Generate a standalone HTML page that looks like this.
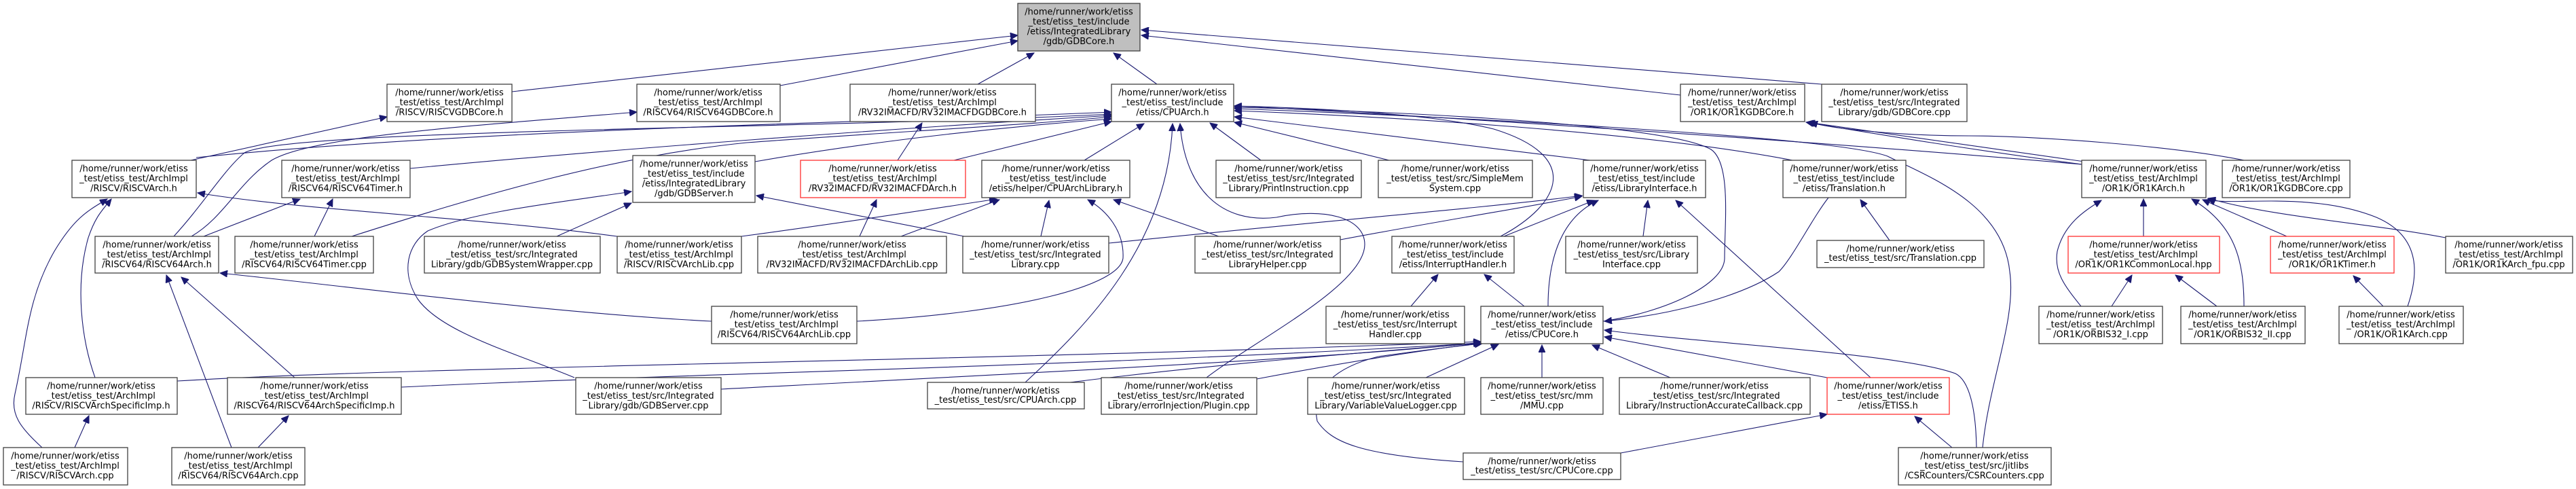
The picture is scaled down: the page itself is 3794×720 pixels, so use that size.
<!DOCTYPE html>
<html><head><meta charset="utf-8"><style>
html,body{margin:0;padding:0;background:#fff;}
svg{display:block;}
text{font-family:"DejaVu Sans","Liberation Sans",sans-serif;font-size:13px;fill:#000;}
.n{fill:#fff;stroke:#404040;stroke-width:1.3;}
.r{fill:#fff;stroke:#ff3030;stroke-width:1.3;}
.g{fill:#bfbfbf;stroke:#404040;stroke-width:1.3;}
.e{fill:none;stroke:#191970;stroke-width:1.1;marker-end:url(#a);}
</style></head><body>
<svg width="3794" height="720" viewBox="0 0 3794 720" xmlns="http://www.w3.org/2000/svg">
<defs><marker id="a" markerUnits="userSpaceOnUse" markerWidth="12" markerHeight="10" refX="11" refY="5" orient="auto"><path d="M0,0 L11,5 L0,10 z" fill="#191970" stroke="#191970"/></marker></defs>
<g id="edges">
<!-- to GDBCore -->
<path class="e" d="M754,135 L1499,52"/>
<path class="e" d="M1149,126 L1499,60"/>
<path class="e" d="M1440,124 L1523,78"/>
<path class="e" d="M1704,124 L1640,78"/>
<path class="e" d="M2475,140 L1681,52"/>
<path class="e" d="M2683,124 L1681,44"/>
<!-- to RISCVGDBCore / RISCV64GDBCore / RV32GDBCore -->
<path class="e" d="M281,236 L570,172"/>
<path class="e" d="M282,348 C330,320 350,270 400,236 C460,200 700,185 938,165"/>
<path class="e" d="M1322,236 L1358,181"/>
<!-- to CPUArch.h from left -->
<path class="e" d="M289,232 C700,190 1300,180 1637,165"/>
<path class="e" d="M256,348 C300,300 330,250 360,225 C420,190 1200,190 1637,168"/>
<path class="e" d="M604,248 C900,220 1300,190 1637,170"/>
<path class="e" d="M518,348 C700,290 900,230 1100,210 C1300,195 1500,185 1637,172"/>
<path class="e" d="M1112,238 C1300,205 1500,185 1637,175"/>
<path class="e" d="M1405,236 L1637,179"/>
<path class="e" d="M1597,236 L1685,182"/>
<path class="e" d="M1510,563 C1600,480 1720,360 1727,182"/>
<path class="e" d="M1777,556 C1850,500 2010,420 2010,360 C2010,320 1950,305 1880,320 C1800,330 1745,280 1738,182"/>
<path class="e" d="M1857,236 L1782,181"/>
<path class="e" d="M2046,236 L1818,180"/>
<!-- to CPUArch.h from right -->
<path class="e" d="M2342,236 L1818,172"/>
<path class="e" d="M2210,348 C2300,300 2330,230 2200,190 C2100,165 1900,158 1818,156"/>
<path class="e" d="M2361,473 C2450,460 2540,420 2540,380 C2540,330 2550,240 2520,220 C2450,180 2000,162 1818,158"/>
<path class="e" d="M2640,236 C2400,190 2000,170 1818,163"/>
<path class="e" d="M3066,242 C2700,210 2100,170 1818,156"/>
<path class="e" d="M2920,659 C2930,560 2970,470 2960,400 C2950,300 2840,260 2780,230 C2700,200 2100,170 1818,160"/>
<!-- RISCV side -->
<path class="e" d="M909,348 C700,320 450,310 291,284"/>
<path class="e" d="M62,659 C30,630 15,610 22,580 C40,500 40,440 80,370 C110,320 130,310 158,293"/>
<path class="e" d="M140,556 C120,500 110,420 130,350 C140,320 150,310 164,293"/>
<path class="e" d="M300,348 L442,293"/>
<path class="e" d="M463,348 L490,293"/>
<path class="e" d="M341,659 L245,405"/>
<path class="e" d="M434,556 L267,408"/>
<path class="e" d="M1048,473 C800,460 500,420 324,402"/>
<path class="e" d="M110,659 L131,612"/>
<path class="e" d="M380,659 L425,612"/>
<!-- to CPUCore.h from left -->
<path class="e" d="M261,561 C600,540 1500,530 2181,503"/>
<path class="e" d="M591,570 C1000,550 1600,540 2181,505"/>
<path class="e" d="M1062,573 C1600,545 2000,525 2181,504"/>
<path class="e" d="M1576,563 C1800,535 2000,520 2181,505"/>
<path class="e" d="M1851,558 C2000,530 2100,515 2183,505"/>
<path class="e" d="M2100,556 L2207,507"/>
<path class="e" d="M2271,556 L2271,508"/>
<path class="e" d="M2460,556 L2345,508"/>
<path class="e" d="M2691,556 L2363,496"/>
<path class="e" d="M2911,659 C2910,600 2900,560 2880,550 C2800,520 2500,505 2363,486"/>
<path class="e" d="M2693,291 C2670,320 2640,380 2620,400 C2560,440 2450,465 2363,473"/>
<path class="e" d="M2155,680 C2000,670 1960,650 1940,620 C1930,570 1970,540 2030,525 C2100,515 2160,508 2183,506"/>
<path class="e" d="M2387,667 L2691,610"/>
<!-- GDBServer.h -->
<path class="e" d="M820,348 L930,299"/>
<path class="e" d="M1420,348 L1114,288"/>
<path class="e" d="M846,556 C760,520 650,490 615,440 C590,400 600,360 630,340 C700,310 850,295 930,282"/>
<!-- CPUArchLibrary / RV32Arch -->
<path class="e" d="M1092,348 C1300,320 1420,300 1468,293"/>
<path class="e" d="M1327,348 L1472,294"/>
<path class="e" d="M1533,348 L1545,295"/>
<path class="e" d="M1262,473 C1500,460 1650,420 1654,380 C1656,340 1630,310 1602,294"/>
<path class="e" d="M1795,348 L1640,294"/>
<path class="e" d="M1266,348 L1291,294"/>
<!-- LibraryInterface.h -->
<path class="e" d="M1633,358 C1900,330 2200,305 2330,288"/>
<path class="e" d="M1974,353 C2150,320 2250,305 2330,289"/>
<path class="e" d="M2215,348 L2348,295"/>
<path class="e" d="M2280,451 C2280,380 2300,320 2354,295"/>
<path class="e" d="M2420,348 L2427,295"/>
<path class="e" d="M2755,556 L2468,295"/>
<!-- InterruptHandler.h -->
<path class="e" d="M2078,451 L2118,404"/>
<path class="e" d="M2245,451 L2186,404"/>
<!-- ETISS / Translation / CSR -->
<path class="e" d="M2875,659 L2820,613"/>
<path class="e" d="M2783,354 L2740,294"/>
<!-- OR1K -->
<path class="e" d="M3066,242 C2900,220 2780,200 2660,180"/>
<path class="e" d="M3070,238 C2900,215 2760,195 2662,180"/>
<path class="e" d="M3305,236 C3200,215 3000,200 2900,200 C2800,200 2700,190 2666,180"/>
<path class="e" d="M3065,451 C3040,420 3025,400 3030,370 C3040,330 3070,310 3095,295"/>
<path class="e" d="M3157,348 L3157,293"/>
<path class="e" d="M3305,451 C3305,380 3290,330 3228,293"/>
<path class="e" d="M3368,348 L3244,294"/>
<path class="e" d="M3546,451 C3560,410 3570,350 3500,320 C3400,280 3280,305 3252,293"/>
<path class="e" d="M3602,350 C3500,330 3350,320 3252,292"/>
<path class="e" d="M3110,451 L3140,405"/>
<path class="e" d="M3265,451 L3204,405"/>
<path class="e" d="M3510,451 L3466,406"/>
</g>
<g id="nodes">
<rect class="g" x="1499" y="5" width="180" height="70"/><text text-anchor="middle" x="1589"><tspan x="1589" y="21.5">/home/runner/work/etiss</tspan><tspan x="1589" y="36">_test/etiss_test/include</tspan><tspan x="1589" y="50.5">/etiss/IntegratedLibrary</tspan><tspan x="1589" y="65">/gdb/GDBCore.h</tspan></text>

<rect class="n" x="570" y="124" width="184" height="55"/><text text-anchor="middle"><tspan x="662" y="140.5">/home/runner/work/etiss</tspan><tspan x="662" y="155">_test/etiss_test/ArchImpl</tspan><tspan x="662" y="169.5">/RISCV/RISCVGDBCore.h</tspan></text>
<rect class="n" x="938" y="124" width="211" height="55"/><text text-anchor="middle"><tspan x="1043" y="140.5">/home/runner/work/etiss</tspan><tspan x="1043" y="155">_test/etiss_test/ArchImpl</tspan><tspan x="1043" y="169.5">/RISCV64/RISCV64GDBCore.h</tspan></text>
<rect class="n" x="1252" y="124" width="273" height="55"/><text text-anchor="middle"><tspan x="1388" y="140.5">/home/runner/work/etiss</tspan><tspan x="1388" y="155">_test/etiss_test/ArchImpl</tspan><tspan x="1388" y="169.5">/RV32IMACFD/RV32IMACFDGDBCore.h</tspan></text>
<rect class="n" x="1637" y="124" width="180" height="55"/><text text-anchor="middle"><tspan x="1727" y="140.5">/home/runner/work/etiss</tspan><tspan x="1727" y="155">_test/etiss_test/include</tspan><tspan x="1727" y="169.5">/etiss/CPUArch.h</tspan></text>
<rect class="n" x="2475" y="124" width="183" height="55"/><text text-anchor="middle"><tspan x="2566" y="140.5">/home/runner/work/etiss</tspan><tspan x="2566" y="155">_test/etiss_test/ArchImpl</tspan><tspan x="2566" y="169.5">/OR1K/OR1KGDBCore.h</tspan></text>
<rect class="n" x="2683" y="124" width="214" height="55"/><text text-anchor="middle"><tspan x="2790" y="140.5">/home/runner/work/etiss</tspan><tspan x="2790" y="155">_test/etiss_test/src/Integrated</tspan><tspan x="2790" y="169.5">Library/gdb/GDBCore.cpp</tspan></text>

<rect class="n" x="106" y="236" width="183" height="55"/><text text-anchor="middle"><tspan x="197" y="252.5">/home/runner/work/etiss</tspan><tspan x="197" y="267">_test/etiss_test/ArchImpl</tspan><tspan x="197" y="281.5">/RISCV/RISCVArch.h</tspan></text>
<rect class="n" x="415" y="236" width="189" height="55"/><text text-anchor="middle"><tspan x="509" y="252.5">/home/runner/work/etiss</tspan><tspan x="509" y="267">_test/etiss_test/ArchImpl</tspan><tspan x="509" y="281.5">/RISCV64/RISCV64Timer.h</tspan></text>
<rect class="n" x="932" y="229" width="180" height="69"/><text text-anchor="middle"><tspan x="1022" y="245.5">/home/runner/work/etiss</tspan><tspan x="1022" y="260">_test/etiss_test/include</tspan><tspan x="1022" y="274.5">/etiss/IntegratedLibrary</tspan><tspan x="1022" y="289">/gdb/GDBServer.h</tspan></text>
<rect class="r" x="1179" y="236" width="243" height="55"/><text text-anchor="middle"><tspan x="1300" y="252.5">/home/runner/work/etiss</tspan><tspan x="1300" y="267">_test/etiss_test/ArchImpl</tspan><tspan x="1300" y="281.5">/RV32IMACFD/RV32IMACFDArch.h</tspan></text>
<rect class="n" x="1446" y="236" width="218" height="55"/><text text-anchor="middle"><tspan x="1555" y="252.5">/home/runner/work/etiss</tspan><tspan x="1555" y="267">_test/etiss_test/include</tspan><tspan x="1555" y="281.5">/etiss/helper/CPUArchLibrary.h</tspan></text>
<rect class="n" x="1791" y="236" width="214" height="55"/><text text-anchor="middle"><tspan x="1898" y="252.5">/home/runner/work/etiss</tspan><tspan x="1898" y="267">_test/etiss_test/src/Integrated</tspan><tspan x="1898" y="281.5">Library/PrintInstruction.cpp</tspan></text>
<rect class="n" x="2030" y="236" width="227" height="55"/><text text-anchor="middle"><tspan x="2143" y="252.5">/home/runner/work/etiss</tspan><tspan x="2143" y="267">_test/etiss_test/src/SimpleMem</tspan><tspan x="2143" y="281.5">System.cpp</tspan></text>
<rect class="n" x="2332" y="236" width="180" height="55"/><text text-anchor="middle"><tspan x="2422" y="252.5">/home/runner/work/etiss</tspan><tspan x="2422" y="267">_test/etiss_test/include</tspan><tspan x="2422" y="281.5">/etiss/LibraryInterface.h</tspan></text>
<rect class="n" x="2626" y="236" width="181" height="55"/><text text-anchor="middle"><tspan x="2716" y="252.5">/home/runner/work/etiss</tspan><tspan x="2716" y="267">_test/etiss_test/include</tspan><tspan x="2716" y="281.5">/etiss/Translation.h</tspan></text>
<rect class="n" x="3066" y="236" width="183" height="55"/><text text-anchor="middle"><tspan x="3157" y="252.5">/home/runner/work/etiss</tspan><tspan x="3157" y="267">_test/etiss_test/ArchImpl</tspan><tspan x="3157" y="281.5">/OR1K/OR1KArch.h</tspan></text>
<rect class="n" x="3273" y="236" width="188" height="55"/><text text-anchor="middle"><tspan x="3367" y="252.5">/home/runner/work/etiss</tspan><tspan x="3367" y="267">_test/etiss_test/ArchImpl</tspan><tspan x="3367" y="281.5">/OR1K/OR1KGDBCore.cpp</tspan></text>

<rect class="n" x="140" y="348" width="182" height="54"/><text text-anchor="middle"><tspan x="231" y="364.5">/home/runner/work/etiss</tspan><tspan x="231" y="379">_test/etiss_test/ArchImpl</tspan><tspan x="231" y="393.5">/RISCV64/RISCV64Arch.h</tspan></text>
<rect class="n" x="346" y="348" width="204" height="54"/><text text-anchor="middle"><tspan x="448" y="364.5">/home/runner/work/etiss</tspan><tspan x="448" y="379">_test/etiss_test/ArchImpl</tspan><tspan x="448" y="393.5">/RISCV64/RISCV64Timer.cpp</tspan></text>
<rect class="n" x="625" y="348" width="259" height="54"/><text text-anchor="middle"><tspan x="754" y="364.5">/home/runner/work/etiss</tspan><tspan x="754" y="379">_test/etiss_test/src/Integrated</tspan><tspan x="754" y="393.5">Library/gdb/GDBSystemWrapper.cpp</tspan></text>
<rect class="n" x="909" y="348" width="183" height="54"/><text text-anchor="middle"><tspan x="1000" y="364.5">/home/runner/work/etiss</tspan><tspan x="1000" y="379">_test/etiss_test/ArchImpl</tspan><tspan x="1000" y="393.5">/RISCV/RISCVArchLib.cpp</tspan></text>
<rect class="n" x="1116" y="348" width="278" height="54"/><text text-anchor="middle"><tspan x="1255" y="364.5">/home/runner/work/etiss</tspan><tspan x="1255" y="379">_test/etiss_test/ArchImpl</tspan><tspan x="1255" y="393.5">/RV32IMACFD/RV32IMACFDArchLib.cpp</tspan></text>
<rect class="n" x="1418" y="348" width="215" height="54"/><text text-anchor="middle"><tspan x="1525" y="364.5">/home/runner/work/etiss</tspan><tspan x="1525" y="379">_test/etiss_test/src/Integrated</tspan><tspan x="1525" y="393.5">Library.cpp</tspan></text>
<rect class="n" x="1760" y="348" width="214" height="54"/><text text-anchor="middle"><tspan x="1867" y="364.5">/home/runner/work/etiss</tspan><tspan x="1867" y="379">_test/etiss_test/src/Integrated</tspan><tspan x="1867" y="393.5">LibraryHelper.cpp</tspan></text>
<rect class="n" x="2050" y="348" width="180" height="54"/><text text-anchor="middle"><tspan x="2140" y="364.5">/home/runner/work/etiss</tspan><tspan x="2140" y="379">_test/etiss_test/include</tspan><tspan x="2140" y="393.5">/etiss/InterruptHandler.h</tspan></text>
<rect class="n" x="2306" y="348" width="194" height="54"/><text text-anchor="middle"><tspan x="2403" y="364.5">/home/runner/work/etiss</tspan><tspan x="2403" y="379">_test/etiss_test/src/Library</tspan><tspan x="2403" y="393.5">Interface.cpp</tspan></text>
<rect class="n" x="2676" y="354" width="246" height="40"/><text text-anchor="middle"><tspan x="2799" y="370.5">/home/runner/work/etiss</tspan><tspan x="2799" y="384">_test/etiss_test/src/Translation.cpp</tspan></text>
<rect class="r" x="3046" y="348" width="223" height="54"/><text text-anchor="middle"><tspan x="3157" y="364.5">/home/runner/work/etiss</tspan><tspan x="3157" y="379">_test/etiss_test/ArchImpl</tspan><tspan x="3157" y="393.5">/OR1K/OR1KCommonLocal.hpp</tspan></text>
<rect class="r" x="3344" y="348" width="182" height="54"/><text text-anchor="middle"><tspan x="3435" y="364.5">/home/runner/work/etiss</tspan><tspan x="3435" y="379">_test/etiss_test/ArchImpl</tspan><tspan x="3435" y="393.5">/OR1K/OR1KTimer.h</tspan></text>
<rect class="n" x="3602" y="348" width="187" height="54"/><text text-anchor="middle"><tspan x="3695" y="364.5">/home/runner/work/etiss</tspan><tspan x="3695" y="379">_test/etiss_test/ArchImpl</tspan><tspan x="3695" y="393.5">/OR1K/OR1KArch_fpu.cpp</tspan></text>

<rect class="n" x="1048" y="451" width="214" height="55"/><text text-anchor="middle"><tspan x="1155" y="467.5">/home/runner/work/etiss</tspan><tspan x="1155" y="482">_test/etiss_test/ArchImpl</tspan><tspan x="1155" y="496.5">/RISCV64/RISCV64ArchLib.cpp</tspan></text>
<rect class="n" x="1953" y="451" width="204" height="55"/><text text-anchor="middle"><tspan x="2055" y="467.5">/home/runner/work/etiss</tspan><tspan x="2055" y="482">_test/etiss_test/src/Interrupt</tspan><tspan x="2055" y="496.5">Handler.cpp</tspan></text>
<rect class="n" x="2181" y="451" width="180" height="55"/><text text-anchor="middle"><tspan x="2271" y="467.5">/home/runner/work/etiss</tspan><tspan x="2271" y="482">_test/etiss_test/include</tspan><tspan x="2271" y="496.5">/etiss/CPUCore.h</tspan></text>
<rect class="n" x="3003" y="451" width="182" height="55"/><text text-anchor="middle"><tspan x="3094" y="467.5">/home/runner/work/etiss</tspan><tspan x="3094" y="482">_test/etiss_test/ArchImpl</tspan><tspan x="3094" y="496.5">/OR1K/ORBIS32_I.cpp</tspan></text>
<rect class="n" x="3212" y="451" width="183" height="55"/><text text-anchor="middle"><tspan x="3303" y="467.5">/home/runner/work/etiss</tspan><tspan x="3303" y="482">_test/etiss_test/ArchImpl</tspan><tspan x="3303" y="496.5">/OR1K/ORBIS32_II.cpp</tspan></text>
<rect class="n" x="3445" y="451" width="183" height="55"/><text text-anchor="middle"><tspan x="3536" y="467.5">/home/runner/work/etiss</tspan><tspan x="3536" y="482">_test/etiss_test/ArchImpl</tspan><tspan x="3536" y="496.5">/OR1K/OR1KArch.cpp</tspan></text>

<rect class="n" x="38" y="556" width="223" height="54"/><text text-anchor="middle"><tspan x="149" y="572.5">/home/runner/work/etiss</tspan><tspan x="149" y="587">_test/etiss_test/ArchImpl</tspan><tspan x="149" y="601.5">/RISCV/RISCVArchSpecificImp.h</tspan></text>
<rect class="n" x="335" y="556" width="256" height="54"/><text text-anchor="middle"><tspan x="463" y="572.5">/home/runner/work/etiss</tspan><tspan x="463" y="587">_test/etiss_test/ArchImpl</tspan><tspan x="463" y="601.5">/RISCV64/RISCV64ArchSpecificImp.h</tspan></text>
<rect class="n" x="848" y="556" width="214" height="54"/><text text-anchor="middle"><tspan x="955" y="572.5">/home/runner/work/etiss</tspan><tspan x="955" y="587">_test/etiss_test/src/Integrated</tspan><tspan x="955" y="601.5">Library/gdb/GDBServer.cpp</tspan></text>
<rect class="n" x="1366" y="563" width="231" height="39"/><text text-anchor="middle"><tspan x="1481" y="579.5">/home/runner/work/etiss</tspan><tspan x="1481" y="593">_test/etiss_test/src/CPUArch.cpp</tspan></text>
<rect class="n" x="1622" y="556" width="229" height="54"/><text text-anchor="middle"><tspan x="1736" y="572.5">/home/runner/work/etiss</tspan><tspan x="1736" y="587">_test/etiss_test/src/Integrated</tspan><tspan x="1736" y="601.5">Library/errorInjection/Plugin.cpp</tspan></text>
<rect class="n" x="1926" y="556" width="231" height="54"/><text text-anchor="middle"><tspan x="2041" y="572.5">/home/runner/work/etiss</tspan><tspan x="2041" y="587">_test/etiss_test/src/Integrated</tspan><tspan x="2041" y="601.5">Library/VariableValueLogger.cpp</tspan></text>
<rect class="n" x="2181" y="556" width="180" height="54"/><text text-anchor="middle"><tspan x="2271" y="572.5">/home/runner/work/etiss</tspan><tspan x="2271" y="587">_test/etiss_test/src/mm</tspan><tspan x="2271" y="601.5">/MMU.cpp</tspan></text>
<rect class="n" x="2385" y="556" width="281" height="54"/><text text-anchor="middle"><tspan x="2525" y="572.5">/home/runner/work/etiss</tspan><tspan x="2525" y="587">_test/etiss_test/src/Integrated</tspan><tspan x="2525" y="601.5">Library/InstructionAccurateCallback.cpp</tspan></text>
<rect class="r" x="2691" y="556" width="180" height="54"/><text text-anchor="middle"><tspan x="2781" y="572.5">/home/runner/work/etiss</tspan><tspan x="2781" y="587">_test/etiss_test/include</tspan><tspan x="2781" y="601.5">/etiss/ETISS.h</tspan></text>

<rect class="n" x="5" y="659" width="183" height="55"/><text text-anchor="middle"><tspan x="96" y="675.5">/home/runner/work/etiss</tspan><tspan x="96" y="690">_test/etiss_test/ArchImpl</tspan><tspan x="96" y="704.5">/RISCV/RISCVArch.cpp</tspan></text>
<rect class="n" x="253" y="659" width="196" height="55"/><text text-anchor="middle"><tspan x="351" y="675.5">/home/runner/work/etiss</tspan><tspan x="351" y="690">_test/etiss_test/ArchImpl</tspan><tspan x="351" y="704.5">/RISCV64/RISCV64Arch.cpp</tspan></text>
<rect class="n" x="2155" y="667" width="232" height="39"/><text text-anchor="middle"><tspan x="2271" y="683.5">/home/runner/work/etiss</tspan><tspan x="2271" y="697">_test/etiss_test/src/CPUCore.cpp</tspan></text>
<rect class="n" x="2796" y="659" width="225" height="55"/><text text-anchor="middle"><tspan x="2908" y="675.5">/home/runner/work/etiss</tspan><tspan x="2908" y="690">_test/etiss_test/src/jitlibs</tspan><tspan x="2908" y="704.5">/CSRCounters/CSRCounters.cpp</tspan></text>
</g>
</svg>
</body></html>
